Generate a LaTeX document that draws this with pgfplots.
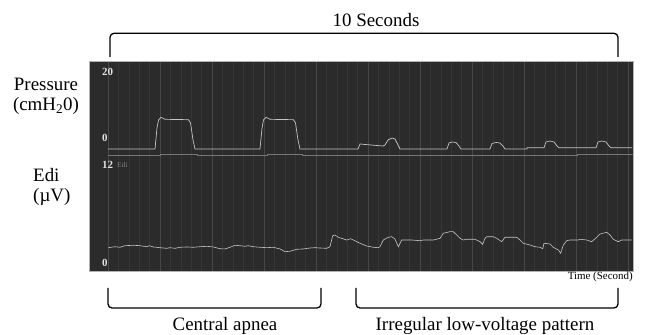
\documentclass[border=0pt]{standalone}
\usepackage{fontspec}
\setmainfont{Liberation Serif}
\usepackage{pgfplots}
\pgfplotsset{compat=1.18}
\definecolor{panel}{HTML}{2B2B2B}
\definecolor{gridminor}{HTML}{363636}
\definecolor{gridmajor}{HTML}{474747}
\definecolor{trace}{HTML}{C4C4C4}
\definecolor{sep}{HTML}{767676}
\pgfplotsset{
  monitor/.style={
    scale only axis,
    width=543.4bp,
    xmin=-0.3596, xmax=10.0904,
    axis background/.style={fill=panel},
    axis line style={draw=none},
    xtick={0,1,...,10},
    minor xtick={0,0.2,...,10},
    ytick=\empty,
    xticklabels={},
    major tick length=0pt, minor tick length=0pt,
    xmajorgrids, xminorgrids,
    major grid style={gridmajor, line width=0.5pt},
    minor grid style={gridminor, line width=0.5pt},
  }
}
\begin{document}
\begin{tikzpicture}
\path[use as bounding box] (0bp,0bp) rectangle (646bp,335bp);
% Pressure panel
\begin{axis}[monitor, at={(89.3bp,178bp)}, anchor=south west, height=95.3bp,
  ymin=-1.951, ymax=21.293]
\addplot[trace, line width=0.7pt] coordinates {
(0,0) (0.904,0) (0.942,5.1) (0.971,7.07) (1.019,7.73) (1.096,7.24) (1.548,7.15) (1.587,6.34) (1.635,2.2) (1.673,0)
(2.923,0) (2.962,5.1) (2.990,7.07) (3.038,7.73) (3.115,7.24) (3.567,7.15) (3.606,6.34) (3.654,2.2) (3.692,0)
(4.808,0) (4.846,1.22) (4.942,1.10) (5.288,0.73) (5.327,0.98) (5.385,2.2) (5.462,2.68) (5.519,2.44) (5.577,0.98) (5.615,0)
(6.519,0) (6.558,1.46) (6.615,1.71) (6.692,1.59) (6.750,0.73) (6.788,0)
(7.346,0) (7.385,1.34) (7.462,1.59) (7.538,1.46) (7.596,0.73) (7.635,0)
(8.058,0) (8.058,0.32)
(8.385,0.32) (8.423,1.71) (8.5,1.95) (8.577,1.71) (8.635,0.73) (8.673,0.32)
(9.385,0.32) (9.423,1.71) (9.5,1.95) (9.577,1.71) (9.635,0.73) (9.673,0.32)
(10.08,0.32)
};
\addplot[sep, line width=0.6pt] coordinates {
(0,-1.59) (1.0,-1.59) (1.0,-1.29) (1.71,-1.29) (1.71,-1.59) (3.06,-1.59) (3.06,-1.29) (3.73,-1.29) (3.73,-1.59) (9.03,-1.59) (9.03,-1.22) (10.09,-1.22)
};
\end{axis}
% Edi panel
\begin{axis}[monitor, at={(89.3bp,63.3bp)}, anchor=south west, height=114.7bp,
  ymin=-1.2125, ymax=13.125]
\addplot[trace, line width=0.6pt] coordinates {
(0.006,1.79) (0.135,1.91) (0.231,1.84) (0.327,2.04) (0.487,2.09) (0.615,2.04) (0.744,1.91) (0.794,2.04) (0.871,1.88)
(1.0,1.79) (1.129,1.71) (1.192,1.79) (1.288,1.71) (1.385,1.84) (1.513,1.88) (1.640,1.84) (1.769,1.91) (1.898,1.96)
(2.025,1.88) (2.154,1.66) (2.25,1.63) (2.346,1.84) (2.442,2.09) (2.538,2.04) (2.635,1.96) (2.698,2.04) (2.794,1.91)
(2.923,1.84) (3.052,1.79) (3.179,1.84) (3.308,1.63) (3.404,1.29) (3.5,1.34) (3.629,1.59) (3.756,1.63) (3.885,1.75)
(3.981,1.79) (4.077,1.75) (4.206,1.71) (4.269,1.91) (4.321,3.29) (4.365,3.375) (4.429,3.09) (4.590,2.75) (4.667,2.91)
(4.717,2.75) (4.846,2.34) (4.975,2.0) (5.102,1.84) (5.198,1.79) (5.231,1.91) (5.294,2.75) (5.390,3.09) (5.456,3.16)
(5.519,2.875) (5.583,1.91) (5.648,2.75) (5.840,2.75) (6.0,2.66) (6.063,2.75) (6.256,2.75) (6.385,2.96) (6.448,3.59)
(6.577,3.79) (6.640,3.79) (6.706,3.375) (6.769,2.96) (6.833,2.75) (6.898,2.84) (7.058,2.84) (7.154,2.54) (7.206,2.21)
(7.25,2.96) (7.283,3.16) (7.410,3.16) (7.475,2.96) (7.571,2.54) (7.635,3.09) (7.698,3.09) (7.860,3.09) (7.923,2.75)
(7.987,2.34) (8.115,2.125) (8.212,1.91) (8.308,1.84) (8.360,1.66) (8.385,2.34) (8.5,2.25) (8.563,1.84) (8.660,1.5)
(8.706,1.09) (8.756,2.125) (8.821,2.66) (8.885,2.75) (9.044,2.75) (9.077,2.84) (9.206,2.75) (9.302,2.54) (9.398,3.09)
(9.462,3.5) (9.590,3.71) (9.654,3.375) (9.717,2.84) (9.813,2.54) (9.879,2.75) (10.071,2.75)
};
\end{axis}
% panel outline
\draw[gray!60, line width=0.4pt] (89.3bp,63.3bp) rectangle (632.7bp,273.3bp);
% scale labels
\node[anchor=west, inner sep=0pt, text=white!88!black, font=\bfseries\fontsize{11}{11}\selectfont] at (102bp,263bp) {20};
\node[anchor=west, inner sep=0pt, text=white!88!black, font=\bfseries\fontsize{11}{11}\selectfont] at (102bp,197bp) {0};
\node[anchor=west, inner sep=0pt, text=white!88!black, font=\bfseries\fontsize{11}{11}\selectfont] at (102bp,170bp) {12};
\node[anchor=west, inner sep=0pt, text=gray, font=\fontsize{7.5}{7.5}\selectfont] at (117bp,170bp) {Edi};
\node[anchor=west, inner sep=0pt, text=white!88!black, font=\bfseries\fontsize{11}{11}\selectfont] at (102bp,72bp) {0};
% left labels
\node[anchor=base, inner sep=0pt, font=\fontsize{19}{19}\selectfont] at (46bp,244bp) {Pressure};
\node[anchor=base, inner sep=0pt, font=\fontsize{19}{19}\selectfont] at (46bp,224bp) {(cmH\textsubscript{2}0)};
\node[anchor=base west, inner sep=0pt, font=\fontsize{19}{19}\selectfont] at (33bp,153bp) {Edi};
\node[anchor=base west, inner sep=0pt, font=\fontsize{19}{19}\selectfont] at (33bp,133bp) {(µV)};
% top bracket
\draw[line width=1.3pt, rounded corners=4bp] (110bp,278bp) -- (110bp,301.7bp) -- (618bp,301.7bp) -- (618bp,278bp);
\node[anchor=base, inner sep=0pt, font=\fontsize{19}{19}\selectfont] at (376bp,308bp) {10 Seconds};
% time label
\node[anchor=east, inner sep=0pt, font=\fontsize{11}{11}\selectfont] at (633bp,58bp) {Time (Second)};
% bottom brackets
\draw[line width=1.3pt, rounded corners=4bp] (108bp,47bp) -- (108bp,27bp) -- (321bp,27bp) -- (321bp,47bp);
\draw[line width=1.3pt, rounded corners=4bp] (356bp,47bp) -- (356bp,27bp) -- (618bp,27bp) -- (618bp,47bp);
\node[anchor=base, inner sep=0pt, font=\fontsize{19}{19}\selectfont] at (225bp,5bp) {Central apnea};
\node[anchor=base, inner sep=0pt, font=\fontsize{19}{19}\selectfont] at (485bp,5bp) {Irregular low-voltage pattern};
\end{tikzpicture}
\end{document}
